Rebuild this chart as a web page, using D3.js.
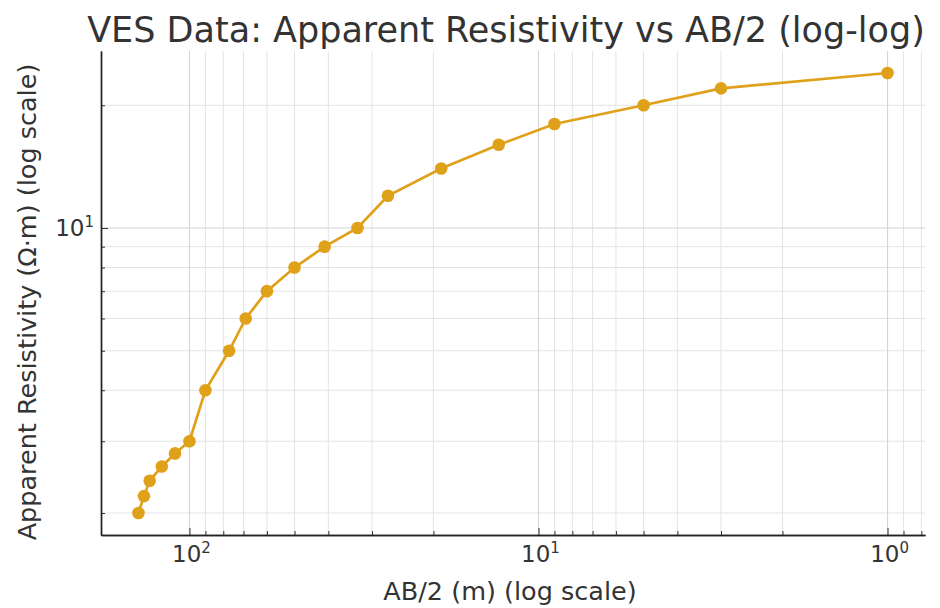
<!DOCTYPE html>
<html>
<head>
<meta charset="utf-8">
<script src="https://cdn.jsdelivr.net/npm/d3@7"></script>
<style>
  html, body { margin: 0; padding: 0; background: #fff; }
  svg { display: block; font-family: "DejaVu Sans", sans-serif; }
</style>
</head>
<body>
<svg id="chart" width="940" height="608"></svg>
<script>
// ---- data ----
const abHalf = [140, 135, 130, 120, 110, 100, 90, 77, 69, 60, 50, 41, 33, 27, 19, 13, 9, 5, 3, 1];
const resistivity = [2, 2.2, 2.4, 2.6, 2.8, 3, 4, 5, 6, 7, 8, 9, 10, 12, 14, 16, 18, 20, 22, 24];
const xMajorTicks = [100, 10, 1];
const yMajorTicks = [10];
const titleText = "VES Data: Apparent Resistivity vs AB/2 (log-log)";
const xLabelText = "AB/2 (m) (log scale)";
const yLabelText = "Apparent Resistivity (\u03A9\u00B7m) (log scale)";

// ---- layout ----
const W = 940, H = 608;
const plot = { left: 101, right: 925, top: 51, bottom: 535 };
const lineColor = "#E0A11A";
const textColor = "#333";

const svg = d3.select("#chart");

function logExtentWithMargin(vals, m) {
  const lo = Math.log10(d3.min(vals)), hi = Math.log10(d3.max(vals));
  const pad = (hi - lo) * m;
  return [Math.pow(10, lo - pad), Math.pow(10, hi + pad)];
}
const xe = logExtentWithMargin(abHalf, 0.05);
const ye = logExtentWithMargin(resistivity, 0.05);

// x axis inverted: larger values on the left
const x = d3.scaleLog().domain([xe[1], xe[0]]).range([plot.left, plot.right]);
const y = d3.scaleLog().domain([ye[0], ye[1]]).range([plot.bottom, plot.top]);

function minorTicks(scale) {
  const [a, b] = d3.extent(scale.domain());
  const out = [];
  for (let e = Math.floor(Math.log10(a)); e <= Math.ceil(Math.log10(b)); e++) {
    for (let k = 2; k <= 9; k++) {
      const v = k * Math.pow(10, e);
      if (v >= a && v <= b) out.push(v);
    }
  }
  return out;
}
const xMinor = minorTicks(x);
const yMinor = minorTicks(y);

// ---- grid ----
const grid = svg.append("g");
grid.selectAll(".xmg").data(xMinor).join("line")
  .attr("x1", d => x(d)).attr("x2", d => x(d))
  .attr("y1", plot.top).attr("y2", plot.bottom)
  .attr("stroke", "#e4e4e4").attr("stroke-width", 1);
grid.selectAll(".ymg").data(yMinor).join("line")
  .attr("x1", plot.left).attr("x2", plot.right)
  .attr("y1", d => y(d)).attr("y2", d => y(d))
  .attr("stroke", "#e4e4e4").attr("stroke-width", 1);
grid.selectAll(".xMg").data(xMajorTicks).join("line")
  .attr("x1", d => x(d)).attr("x2", d => x(d))
  .attr("y1", plot.top).attr("y2", plot.bottom)
  .attr("stroke", "#d4d4d4").attr("stroke-width", 1.1);
grid.selectAll(".yMg").data(yMajorTicks).join("line")
  .attr("x1", plot.left).attr("x2", plot.right)
  .attr("y1", d => y(d)).attr("y2", d => y(d))
  .attr("stroke", "#d4d4d4").attr("stroke-width", 1.1);

// ---- axes (inward ticks) ----
const xAxisG = svg.append("g").attr("transform", `translate(0,${plot.bottom})`)
  .call(d3.axisBottom(x).tickValues(xMinor).tickSize(-4).tickSizeOuter(0).tickFormat(""));
xAxisG.append("g").call(d3.axisBottom(x).tickValues(xMajorTicks).tickSize(-7).tickSizeOuter(0).tickFormat(""));
const yAxisG = svg.append("g").attr("transform", `translate(${plot.left},0)`)
  .call(d3.axisLeft(y).tickValues(yMinor).tickSize(-4).tickSizeOuter(0).tickFormat(""));
yAxisG.append("g").call(d3.axisLeft(y).tickValues(yMajorTicks).tickSize(-7).tickSizeOuter(0).tickFormat(""));
svg.selectAll(".domain").attr("stroke", "#222").attr("stroke-width", 1.4);
svg.selectAll(".tick line").attr("stroke", "#333").attr("stroke-width", 1);
xAxisG.select("g").select(".domain").remove();
yAxisG.select("g").select(".domain").remove();

// tick labels
const fmtExp = v => Math.round(Math.log10(v));
xMajorTicks.forEach(v => {
  const t = svg.append("text").attr("x", x(v) + 2).attr("y", plot.bottom + 27)
    .attr("text-anchor", "middle").attr("font-size", 23).attr("fill", textColor);
  t.append("tspan").text("10");
  t.append("tspan").attr("font-size", 15).attr("dy", -9).text(fmtExp(v));
});
yMajorTicks.forEach(v => {
  const t = svg.append("text").attr("x", plot.left - 7).attr("y", y(v) + 8)
    .attr("text-anchor", "end").attr("font-size", 23).attr("fill", textColor);
  t.append("tspan").text("10");
  t.append("tspan").attr("font-size", 15).attr("dy", -9).text(fmtExp(v));
});

// ---- series ----
const pts = abHalf.map((a, i) => [a, resistivity[i]]);
svg.append("path").datum(pts)
  .attr("fill", "none").attr("stroke", lineColor).attr("stroke-width", 2.7)
  .attr("d", d3.line().x(d => x(d[0])).y(d => y(d[1])));
svg.selectAll(".pt").data(pts).join("circle")
  .attr("cx", d => x(d[0])).attr("cy", d => y(d[1])).attr("r", 6.3)
  .attr("fill", lineColor);

// ---- labels ----
svg.append("text").attr("x", 506).attr("y", 42)
  .attr("text-anchor", "middle").attr("font-size", 35).attr("fill", textColor)
  .text(titleText);
svg.append("text").attr("x", 510).attr("y", 600)
  .attr("text-anchor", "middle").attr("font-size", 25.5).attr("fill", textColor)
  .text(xLabelText);
svg.append("text").attr("transform", `translate(36,302) rotate(-90)`)
  .attr("text-anchor", "middle").attr("font-size", 25.5).attr("fill", textColor)
  .text(yLabelText);
</script>
</body>
</html>
